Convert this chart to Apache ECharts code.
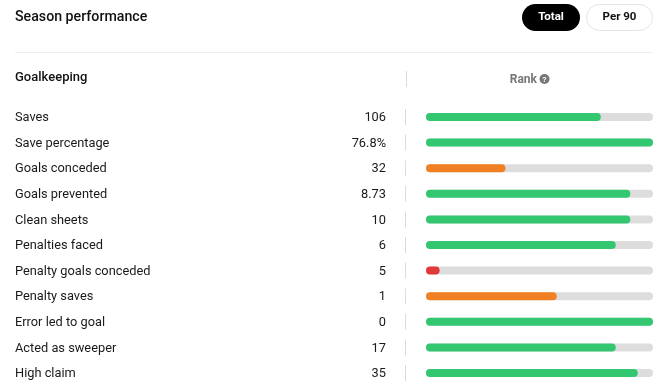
<!DOCTYPE html>
<html>
<head>
<meta charset="utf-8">
<script src="https://cdn.jsdelivr.net/npm/echarts@6/dist/echarts.min.js"></script>
<style>
html,body{margin:0;padding:0;background:#fff;}
#chart{width:665px;height:391px;}
</style>
</head>
<body>
<div id="chart"></div>
<script>
const categories = ['Saves','Save percentage','Goals conceded','Goals prevented','Clean sheets','Penalties faced','Penalty goals conceded','Penalty saves','Error led to goal','Acted as sweeper','High claim'];
const valueLabels = ['106','76.8%','32','8.73','10','6','5','1','0','17','35'];
const rankPercent = [77, 100, 35, 90, 90, 83.6, 6, 57.6, 100, 83.6, 93.3];
const tabs = ['Total','Per 90'];

const FONT = 'Roboto, "Noto Sans", sans-serif';
function rankColor(v){ return v >= 66 ? '#33c771' : (v >= 20 ? '#f08022' : '#e0393a'); }

const chart = echarts.init(document.getElementById('chart'), null, {renderer:'canvas'});
const option = {
  animation: false,
  backgroundColor: '#fff',
  grid: {left: 426, right: 12, top: 104.2, height: 281.6, containLabel: false},
  xAxis: {type:'value', min:0, max:100, show:false},
  yAxis: {
    type:'category', data: categories, inverse:true,
    axisLine:{show:false}, axisTick:{show:false}, splitLine:{show:false},
    axisLabel:{
      margin: 20,
      formatter: function(v, i){ return '{n|' + v + '}{v|' + valueLabels[i] + '}{g| }{s| }'; },
      rich:{
        n:{width:330, align:'left', fontFamily:FONT, fontSize:12.8, color:'#1a1a1a', fontWeight:400, padding:[2,0,0,0]},
        v:{width:41, align:'right', fontFamily:FONT, fontSize:12.8, color:'#1a1a1a', fontWeight:400, padding:[2,0,0,0]},
        g:{width:19, fontSize:1},
        s:{width:1, height:16, backgroundColor:'#dcdcdc', fontSize:1}
      }
    }
  },
  series:[{
    type:'bar',
    data: rankPercent.map(v => ({value:v, itemStyle:{color:rankColor(v)}})),
    barWidth: 8,
    itemStyle:{borderRadius:4},
    showBackground: true,
    backgroundStyle:{color:'#dddddd', borderRadius:4}
  }],
  graphic:[
    {type:'text', x:15, y:17, style:{text:'Season performance', font:'500 14.2px ' + FONT, fill:'#111', verticalAlign:'middle'}},
    {type:'rect', shape:{x:522, y:4, width:58, height:27, r:13.5}, style:{fill:'#000'}},
    {type:'text', x:551, y:17.5, style:{text:tabs[0], font:'700 11.5px ' + FONT, fill:'#fff', align:'center', verticalAlign:'middle'}},
    {type:'rect', shape:{x:586.5, y:4.5, width:66, height:26, r:13}, style:{fill:'#fff', stroke:'#e4e4e4', lineWidth:1}},
    {type:'text', x:619.5, y:17.5, style:{text:tabs[1], font:'700 11.5px ' + FONT, fill:'#111', align:'center', verticalAlign:'middle'}},
    {type:'line', shape:{x1:15, y1:52.5, x2:653, y2:52.5}, style:{stroke:'#eeeeee', lineWidth:1}},
    {type:'text', x:15, y:77.5, style:{text:'Goalkeeping', font:'500 13px ' + FONT, fill:'#111', verticalAlign:'middle'}},
    {type:'line', shape:{x1:406.5, y1:71, x2:406.5, y2:87}, style:{stroke:'#dcdcdc', lineWidth:1}},
    {type:'text', x:537, y:79.5, style:{text:'Rank', font:'700 12px ' + FONT, fill:'#777', align:'right', verticalAlign:'middle'}},
    {type:'circle', shape:{cx:544.5, cy:79, r:5}, style:{fill:'#777'}},
    {type:'text', x:544.5, y:79.5, style:{text:'?', font:'700 8px ' + FONT, fill:'#fff', align:'center', verticalAlign:'middle'}}
  ]
};
chart.setOption(option);
</script>
</body>
</html>
